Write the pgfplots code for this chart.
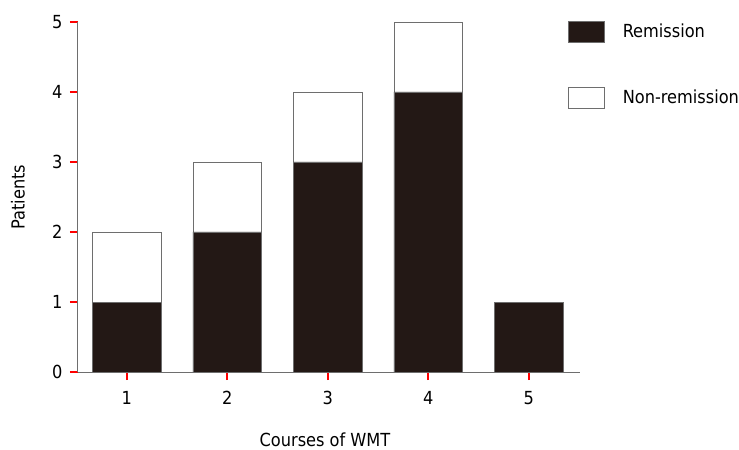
\documentclass[border=0pt]{standalone}
\usepackage{pgfplots}
\pgfplotsset{compat=1.18}
\usepackage{fontspec}
\setmainfont{DejaVu Sans Condensed}
\definecolor{barblack}{RGB}{35,24,21}
\definecolor{axgray}{RGB}{110,110,110}
\begin{document}
\begin{tikzpicture}
\useasboundingbox (-78bp,-78bp) rectangle (661bp,372bp);
\begin{axis}[
    scale only axis,
    width=502bp, height=350bp,
    xmin=0.515, xmax=5.51,
    ymin=0, ymax=5,
    ybar stacked,
    bar width=68.5bp,
    xtick={1,2,3,4,5},
    ytick={0,1,2,3,4,5},
    axis x line=bottom,
    axis y line=left,
    axis line style={-, axgray, line width=1bp},
    tick align=outside,
    tickwidth=8bp,
    tick style={draw=red, line width=2bp},
    axis on top,
    font=\fontsize{18bp}{21bp}\selectfont,
    /pgf/number format/assume math mode=true,
    xticklabel style={yshift=-8bp},
    yticklabel style={xshift=-4bp},
    xlabel={Courses of WMT},
    ylabel={Patients},
    xlabel style={at={(axis description cs:0.5,0)}, anchor=center, yshift=-68bp, xshift=-4bp},
    ylabel style={at={(axis description cs:0,0.5)}, anchor=center, yshift=60bp},
    legend cell align=left,
    legend style={at={(rel axis cs:0.976,1.003)}, anchor=north west,
        draw=none, fill=none, inner sep=0pt, outer sep=0pt,
        row sep=44bp,
        nodes={inner sep=0pt},
        /tikz/every odd column/.append style={column sep=18bp}},
    legend image code/.code={\draw[#1] (0bp,-10.5bp) rectangle (36bp,10.5bp);},
    ]
    \addplot[fill=barblack, draw=axgray, line width=0.8bp]
    coordinates{(1,1)(2,2)(3,3)(4,4)(5,1)};
    \addlegendentry{Remission}

    \addplot[fill=white, draw=axgray, line width=0.8bp]
    coordinates{(1,1)(2,1)(3,1)(4,1)(5,0)};
    \addlegendentry{Non-remission}
\end{axis}
\end{tikzpicture}
\end{document}
